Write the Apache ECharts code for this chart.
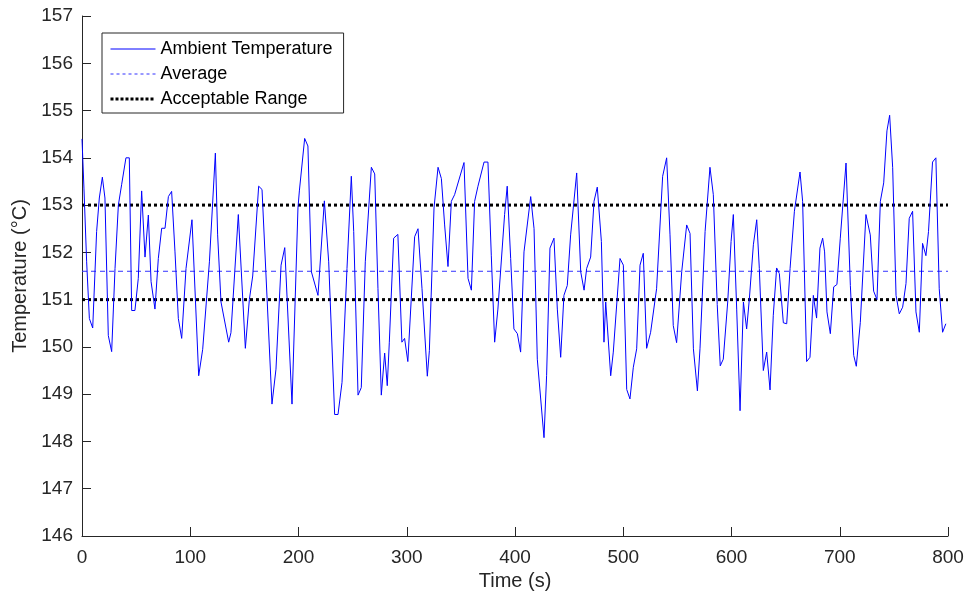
<!DOCTYPE html>
<html>
<head>
<meta charset="utf-8">
<title>Ambient Temperature</title>
<script src="https://cdn.jsdelivr.net/npm/echarts@6/dist/echarts.min.js"></script>
<style>
  html, body { margin: 0; padding: 0; background: #fff; }
  #chart { width: 969px; height: 600px; }
</style>
</head>
<body>
<div id="chart"></div>
<script>
// time (s) and temperature readings
const times = [
  0, 1.8, 4.3, 6.8, 9.9, 13.5, 16, 18.8, 21.2, 24.3, 27.4, 30.5, 33.6, 36.6, 40.6, 43.7, 45.9, 48.9, 52, 55.1,
  58.2, 61.3, 63.8, 67.4, 70.5, 73.6, 76.7, 79.8, 82.8, 85.9, 89, 92.1, 96.1, 101.6, 107.8, 111.5, 117.7, 123.2, 125.3, 128.4,
  135.5, 137.6, 144.4, 150.9, 154.6, 157.7, 163.2, 166.3, 175.5, 179.2, 183.9, 187.3, 194, 199.5, 200.8, 205.7, 208.7, 211.9, 218, 223.9,
  227.9, 233.4, 236.5, 240.2, 244.8, 248.8, 251, 255, 258, 261.7, 267.3, 270.4, 273.4, 276.5, 279.6, 282, 283.9, 287.9, 291.8, 295.5,
  298, 301, 307.3, 310.4, 314.1, 319, 320.9, 325.2, 328.9, 332, 335, 338.1, 341.2, 344.2, 352.9, 356.6, 359.7, 362.7, 365.8, 371.4,
  375, 378.1, 381.2, 384.2, 390.4, 392.8, 396, 399, 402.2, 405.2, 408.3, 414.5, 417.6, 420.6, 426.8, 429.2, 432.3, 436, 439.1, 442.2,
  445.2, 448.3, 451.4, 457, 460.7, 463.8, 466.2, 469.9, 473, 476, 479.8, 482.2, 483.8, 485.3, 488.4, 490.8, 497, 500.1, 503.2, 506.2,
  509.3, 512.4, 515.5, 518.5, 521.6, 525.3, 530.8, 536.4, 540.1, 543.2, 546.2, 549.3, 554, 558.6, 561.7, 564.8, 568.5, 570.9, 575.6, 580.1,
  583.2, 586.8, 589.6, 592.4, 596.5, 599.6, 601.7, 604.8, 607.9, 611, 614, 616.5, 620.2, 623.3, 625.7, 629.4, 632.5, 635.6, 638.6, 641.7,
  644.2, 647.9, 651, 654.1, 658.1, 663.3, 665.7, 669.4, 672.5, 675.6, 678.6, 681.7, 684.2, 686, 688.2, 691.3, 694.4, 697.4, 700.5, 705.8,
  709.8, 712.9, 715.3, 719, 724.2, 728.2, 731.3, 734.4, 737.5, 740.6, 743.6, 746.1, 748.9, 752, 755, 758.1, 761.2, 764.2, 767.3, 770.4,
  773.5, 776.5, 779.6, 782, 785.7, 788.8, 791.9, 795, 798
];
const temps = [
  154.4, 153.36, 151.8, 150.6, 150.4, 152.44, 153.15, 153.59, 153.15, 150.24, 149.9, 151.66, 153.0, 153.43, 154.0, 154.0, 150.77, 150.77, 151.45, 153.3,
  151.9, 152.79, 151.38, 150.8, 151.87, 152.51, 152.51, 153.18, 153.29, 152.01, 150.6, 150.18, 151.66, 152.69, 149.39, 149.95, 151.8, 154.1, 152.37, 150.95,
  150.1, 150.3, 152.8, 149.97, 151.0, 151.5, 153.4, 153.33, 148.79, 149.53, 151.73, 152.1, 148.79, 152.94, 153.3, 154.41, 154.25, 151.59, 151.09, 153.09,
  151.8, 148.57, 148.57, 149.25, 151.66, 153.61, 152.44, 148.98, 149.14, 151.8, 153.8, 153.66, 151.23, 148.98, 149.87, 149.18, 150.1, 152.3, 152.38, 150.1,
  150.18, 149.69, 152.33, 152.5, 151.23, 149.38, 149.92, 152.94, 153.8, 153.56, 152.58, 151.7, 153.08, 153.22, 153.9, 151.45, 151.2, 153.08, 153.4, 153.91,
  153.91, 151.94, 150.1, 150.8, 152.8, 153.4, 151.87, 150.38, 150.28, 149.89, 152.01, 153.18, 152.5, 149.74, 148.08, 149.39, 152.09, 152.3, 150.8, 149.78,
  151.09, 151.3, 152.37, 153.68, 151.59, 151.2, 151.66, 151.9, 153.08, 153.38, 152.23, 150.1, 150.95, 150.95, 149.39, 149.89, 151.87, 151.73, 149.1, 148.9,
  149.57, 149.96, 151.73, 151.98, 149.97, 150.31, 151.23, 153.61, 154.0, 152.37, 150.45, 150.09, 151.59, 152.58, 152.4, 149.96, 149.07, 149.96, 152.44, 153.8,
  153.22, 150.9, 149.6, 149.74, 150.95, 152.23, 152.8, 150.8, 148.65, 150.95, 150.38, 151.02, 152.16, 152.69, 151.66, 149.5, 149.89, 149.09, 150.67, 151.67,
  151.55, 150.51, 150.49, 151.66, 152.87, 153.7, 153.08, 149.69, 149.78, 151.09, 150.61, 152.09, 152.3, 152.01, 150.74, 150.28, 151.27, 151.32, 152.3, 153.89,
  151.3, 149.82, 149.59, 150.52, 152.8, 152.37, 151.18, 151.0, 153.08, 153.47, 154.57, 154.9, 153.79, 151.09, 150.7, 150.84, 151.34, 152.72, 152.87, 150.74,
  150.31, 152.19, 151.93, 152.44, 153.91, 154.0, 151.23, 150.31, 150.49
];
const average = 151.6;
const rangeLow = 151;
const rangeHigh = 153;
const timeSpan = [0, 800];

const chart = echarts.init(document.getElementById("chart"));
const axisColor = "#262626";
const font = "Liberation Sans, Arial, sans-serif";

chart.setOption({
  animation: false,
  textStyle: { fontFamily: font },
  grid: { left: 82, right: 21, top: 16, bottom: 64 },
  legend: {
    orient: "vertical",
    left: 102,
    top: 33,
    padding: [7, 11, 5, 7],
    itemWidth: 45,
    itemHeight: 14,
    itemGap: 7,
    backgroundColor: "#fff",
    borderColor: axisColor,
    borderWidth: 1,
    borderRadius: 0,
    itemStyle: { opacity: 0 },
    textStyle: { fontSize: 18, color: "#000", fontFamily: font },
    data: [
      { name: "Ambient Temperature", lineStyle: { width: 1 } },
      { name: "Average", lineStyle: { width: 1, type: [3, 3] } },
      { name: "Acceptable Range", lineStyle: { width: 3, type: [3, 2] } }
    ]
  },
  xAxis: {
    type: "value",
    min: 0,
    max: 800,
    interval: 100,
    name: "Time (s)",
    nameLocation: "middle",
    nameGap: 34,
    nameTextStyle: { fontSize: 20, color: axisColor },
    axisLine: { lineStyle: { color: axisColor } },
    axisTick: { inside: true, length: 9, lineStyle: { color: axisColor } },
    axisLabel: { fontSize: 19, color: axisColor, margin: 12 },
    splitLine: { show: false }
  },
  yAxis: {
    type: "value",
    min: 146,
    max: 157,
    interval: 1,
    name: "Temperature (°C)",
    nameLocation: "middle",
    nameGap: 48,
    nameTextStyle: { fontSize: 20, color: axisColor },
    axisLine: { show: true, lineStyle: { color: axisColor } },
    axisTick: { show: true, inside: true, length: 9, lineStyle: { color: axisColor } },
    axisLabel: { fontSize: 19, color: axisColor, margin: 9 },
    splitLine: { show: false }
  },
  series: [
    {
      name: "Ambient Temperature",
      type: "line",
      symbol: "none",
      lineStyle: { color: "#0000ff", width: 1 },
      itemStyle: { color: "#0000ff" },
      data: times.map((t, i) => [t, temps[i]]),
      z: 3
    },
    {
      name: "Average",
      type: "line",
      symbol: "none",
      lineStyle: { color: "#3333ff", width: 1, type: [5, 4] },
      itemStyle: { color: "#3333ff" },
      data: timeSpan.map((t) => [t, average]),
      z: 2
    },
    {
      name: "Acceptable Range",
      type: "line",
      symbol: "none",
      lineStyle: { color: "#000", width: 3, type: [3, 3] },
      itemStyle: { color: "#000" },
      data: timeSpan.map((t) => [t, rangeHigh]),
      z: 2
    },
    {
      name: "Acceptable Range",
      type: "line",
      symbol: "none",
      lineStyle: { color: "#000", width: 3, type: [3, 3] },
      itemStyle: { color: "#000" },
      data: timeSpan.map((t) => [t, rangeLow]),
      z: 2
    }
  ]
});
</script>
</body>
</html>
